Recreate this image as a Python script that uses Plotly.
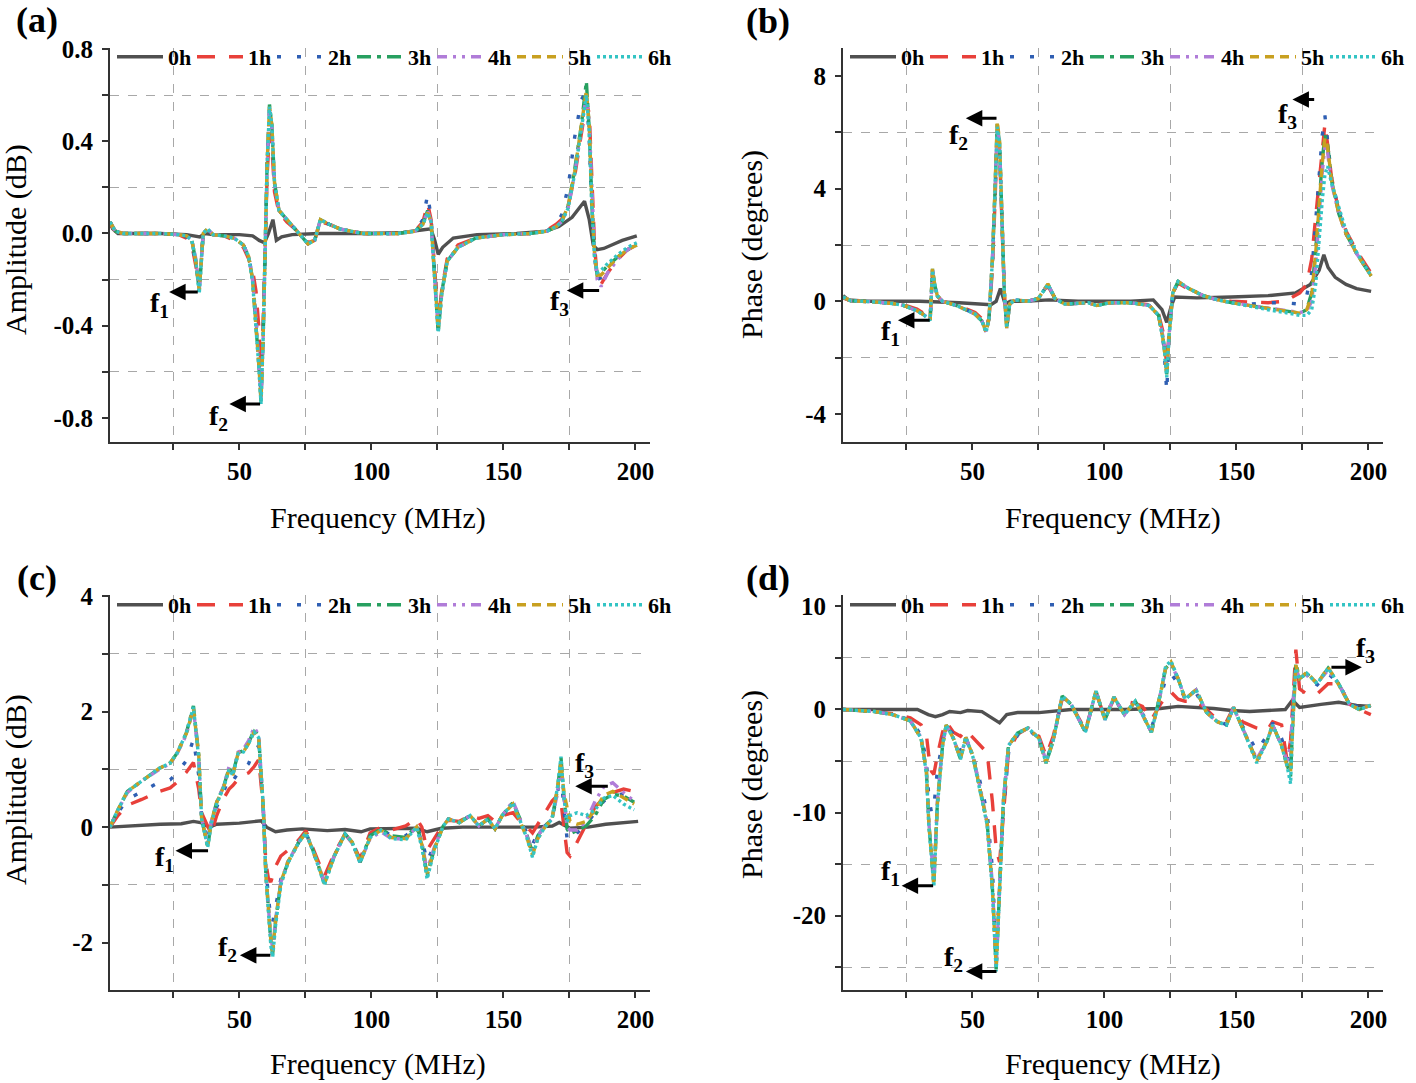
import plotly.graph_objects as go

SERIES = ["0h", "1h", "2h", "3h", "4h", "5h", "6h"]
COLORS = ["#505050", "#E8403A", "#2F5FB3", "#27A060", "#B07CD8", "#C8A020", "#33C4C4"]
DASHES = ["solid", "18px,14px", "4px,16px", "14px,6px,4px,6px", "10px,6px,3px,6px,3px,6px", "9px,6px", "3px,3px"]

# ---------------- Panel (a): amplitude ----------------
FA0 = [1, 2, 4, 10, 20, 30, 33, 35, 37, 40, 50, 55, 57.5, 59.5, 61, 62.7, 64, 66, 70, 80,
       100, 112, 119, 122.5, 124, 125.3, 127, 131, 140, 155, 166, 171, 176, 180.7, 182.5, 184, 185.5, 188, 191, 195, 200.5]
A0 = [0.05, 0.02, 0.0, 0.0, 0.0, -0.005, -0.01, -0.015, 0.0, -0.005, -0.005, -0.01, -0.03, -0.04, 0.0, 0.06, -0.03, -0.015, -0.005, 0.0,
      0.0, 0.005, 0.015, 0.02, -0.03, -0.09, -0.06, -0.02, -0.005, 0.0, 0.01, 0.03, 0.07, 0.14, 0.06, -0.05, -0.07, -0.065, -0.05, -0.03, -0.01]
FA = [1, 3, 6, 12, 20, 27, 30, 32, 33.5, 34.8, 35.5, 36.3, 37.9, 40, 44, 48, 51.5, 53.5, 55, 56.3,
      57.3, 58.2, 59, 59.8, 60.5, 61.4, 62.3, 63.3, 65, 68, 72, 76, 78.5, 80.7, 84, 88, 92, 97, 102, 110,
      116.5, 119.5, 121.3, 122.6, 124, 125.3, 126.7, 128.7, 132.8, 139.5, 150, 160, 166.5, 170, 172, 174.5, 177, 179.5, 181.4, 182.5,
      183.5, 184.5, 185.5, 187, 189.5, 193.5, 197, 200.5]
A1 = [0.04, 0.01, 0.0, 0.0, 0.0, -0.005, -0.02, -0.05, -0.14, -0.22,
      -0.12, 0.0, 0.01, -0.005, -0.01, -0.03, -0.06, -0.11, -0.16, -0.25,
      -0.4, -0.58, -0.38, -0.05, 0.25, 0.44, 0.38, 0.18, 0.09, 0.05,
      0.01, -0.04, -0.03, 0.05, 0.04, 0.02, 0.01, 0.0, 0.0, 0.0,
      0.01, 0.05, 0.13, 0.06, -0.16, -0.38, -0.24, -0.11, -0.05, -0.02,
      -0.005, 0.0, 0.015, 0.04, 0.06, 0.12, 0.25, 0.42, 0.57, 0.52,
      0.2, -0.05, -0.19, -0.22, -0.17, -0.11, -0.07, -0.05]
A2 = [0.05, 0.01, 0.0, 0.0, 0.0, -0.005, -0.015, -0.04, -0.13, -0.24,
      -0.13, 0.0, 0.02, -0.005, -0.01, -0.02, -0.05, -0.1, -0.19, -0.36,
      -0.52, -0.7, -0.44, -0.05, 0.3, 0.54, 0.46, 0.21, 0.1, 0.06,
      0.01, -0.045, -0.03, 0.06, 0.04, 0.02, 0.01, 0.0, 0.0, 0.0,
      0.01, 0.06, 0.17, 0.07, -0.18, -0.41, -0.26, -0.12, -0.06, -0.02,
      -0.005, 0.0, 0.01, 0.04, 0.08, 0.2, 0.42, 0.58, 0.62, 0.4,
      0.1, -0.1, -0.2, -0.19, -0.15, -0.1, -0.07, -0.05]
A3 = [0.05, 0.01, 0.0, 0.0, 0.0, -0.005, -0.01, -0.03, -0.12, -0.25,
      -0.14, 0.0, 0.02, -0.005, -0.01, -0.02, -0.05, -0.1, -0.2, -0.38,
      -0.56, -0.73, -0.45, -0.05, 0.3, 0.56, 0.47, 0.22, 0.1, 0.06,
      0.01, -0.045, -0.03, 0.06, 0.04, 0.02, 0.01, 0.0, 0.0, 0.0,
      0.01, 0.04, 0.1, 0.05, -0.2, -0.43, -0.25, -0.12, -0.06, -0.02,
      -0.005, 0.0, 0.01, 0.03, 0.05, 0.12, 0.28, 0.47, 0.66, 0.45,
      0.12, -0.1, -0.18, -0.17, -0.14, -0.1, -0.07, -0.05]
A4 = [0.05, 0.01, 0.0, 0.0, 0.0, -0.005, -0.01, -0.03, -0.11, -0.24,
      -0.13, 0.0, 0.02, -0.005, -0.01, -0.02, -0.05, -0.1, -0.2, -0.37,
      -0.55, -0.72, -0.45, -0.05, 0.29, 0.54, 0.46, 0.21, 0.1, 0.06,
      0.01, -0.045, -0.03, 0.06, 0.04, 0.02, 0.01, 0.0, 0.0, 0.0,
      0.01, 0.04, 0.1, 0.05, -0.2, -0.42, -0.25, -0.12, -0.06, -0.02,
      -0.005, 0.0, 0.01, 0.03, 0.05, 0.11, 0.26, 0.45, 0.6, 0.48,
      0.15, -0.08, -0.2, -0.23, -0.17, -0.11, -0.07, -0.05]
A5 = [0.05, 0.01, 0.0, 0.0, 0.0, -0.005, -0.01, -0.03, -0.12, -0.25,
      -0.14, 0.0, 0.02, -0.005, -0.01, -0.02, -0.05, -0.1, -0.2, -0.38,
      -0.56, -0.72, -0.45, -0.05, 0.3, 0.55, 0.47, 0.22, 0.1, 0.06,
      0.01, -0.045, -0.03, 0.06, 0.04, 0.02, 0.01, 0.0, 0.0, 0.0,
      0.01, 0.04, 0.09, 0.05, -0.2, -0.41, -0.25, -0.12, -0.06, -0.02,
      -0.005, 0.0, 0.01, 0.03, 0.05, 0.12, 0.27, 0.46, 0.62, 0.47,
      0.13, -0.09, -0.18, -0.18, -0.15, -0.1, -0.07, -0.05]
A6 = [0.05, 0.01, 0.0, 0.0, 0.0, -0.005, -0.01, -0.03, -0.12, -0.26,
      -0.15, 0.0, 0.02, -0.005, -0.01, -0.02, -0.05, -0.1, -0.21, -0.39,
      -0.57, -0.74, -0.46, -0.05, 0.3, 0.55, 0.47, 0.22, 0.1, 0.06,
      0.01, -0.045, -0.03, 0.06, 0.04, 0.02, 0.01, 0.0, 0.0, 0.0,
      0.01, 0.04, 0.09, 0.05, -0.21, -0.43, -0.26, -0.12, -0.06, -0.02,
      -0.005, 0.0, 0.01, 0.03, 0.05, 0.11, 0.26, 0.45, 0.6, 0.44,
      0.11, -0.1, -0.17, -0.16, -0.13, -0.09, -0.06, -0.04]

# ---------------- Panel (b): phase ----------------
FB0 = [1, 3, 10, 30, 45, 54, 57, 59, 60.6, 62.4, 64.4, 70, 79, 90, 110, 118.5, 121.8, 123.6, 125.2, 126.6,
       135, 148, 162, 172.5, 178, 181.3, 183.1, 184.7, 187.4, 191.5, 195.5, 201]
B0 = [0.2, 0.05, 0.0, 0.0, -0.05, -0.1, -0.12, 0.0, 0.45, -0.1, 0.0, 0.0, 0.05, 0.0, 0.0, 0.05, -0.3, -0.75, -0.2, 0.15,
      0.12, 0.15, 0.2, 0.3, 0.6, 1.1, 1.65, 1.2, 0.85, 0.6, 0.45, 0.35]
FB = [1, 4, 13, 20, 24, 29, 32, 34, 34.9, 35.7, 36.7, 38.7, 44, 51, 53.6, 55.2, 56.3, 57.6, 58.6, 59.4,
      60.3, 61.2, 62.1, 63, 64.1, 66, 71, 75, 78.6, 81.3, 85, 94, 97, 102, 110, 117, 120.5, 122.5, 123.6, 124.5,
      125.9, 127.9, 132, 137.4, 143, 148, 155, 162, 168.5, 174, 176.6, 178.5, 180, 181.3, 182.5, 183.5, 184.5, 186, 188.8, 191.5,
      195.5, 201]
B1 = [0.12, 0.02, -0.02, -0.07, -0.13, -0.28, -0.45, -0.6, 1.0, 0.55,
      0.18, 0.0, -0.12, -0.4, -0.62, -0.9, -0.6, 1.2, 3.6, 6.0,
      5.3, 2.4, 0.3, -0.85, -0.1, 0.05, 0.0, 0.1, 0.55, 0.1,
      -0.1, -0.05, -0.12, -0.05, -0.05, -0.12, -0.45, -1.2, -2.3, -1.1,
      0.3, 0.65, 0.42, 0.2, 0.05, 0.0, -0.02, -0.05, 0.0, 0.3,
      0.6, 1.5, 3.0, 4.3, 5.6, 6.3, 5.6, 4.4, 3.2, 2.5,
      1.8, 1.0]
B2 = [0.15, 0.02, -0.02, -0.08, -0.15, -0.32, -0.5, -0.64, 1.1, 0.6,
      0.2, 0.0, -0.14, -0.45, -0.7, -1.05, -0.6, 1.4, 3.9, 6.2,
      5.5, 2.5, 0.3, -0.95, -0.1, 0.05, 0.0, 0.1, 0.6, 0.1,
      -0.1, -0.05, -0.15, -0.05, -0.05, -0.15, -0.5, -1.6, -3.2, -1.3,
      0.3, 0.7, 0.45, 0.2, 0.05, -0.02, -0.1, -0.05, -0.05, -0.1,
      0.2, 1.0, 2.8, 4.6, 5.9, 6.6, 5.8, 4.4, 3.2, 2.4,
      1.7, 0.95]
B3 = [0.15, 0.02, -0.02, -0.08, -0.15, -0.33, -0.5, -0.66, 1.15, 0.6,
      0.2, 0.0, -0.15, -0.45, -0.7, -1.1, -0.6, 1.5, 4.0, 6.3,
      5.6, 2.6, 0.3, -0.95, -0.1, 0.05, 0.0, 0.1, 0.6, 0.1,
      -0.1, -0.05, -0.15, -0.05, -0.05, -0.15, -0.5, -1.5, -2.6, -1.2,
      0.3, 0.7, 0.45, 0.2, 0.05, -0.05, -0.15, -0.25, -0.35, -0.42,
      -0.3, 0.3, 1.8, 3.6, 5.0, 5.9, 5.6, 4.3, 3.1, 2.4,
      1.7, 0.9]
B4 = [0.15, 0.02, -0.02, -0.08, -0.15, -0.33, -0.5, -0.66, 1.1, 0.6,
      0.2, 0.0, -0.15, -0.45, -0.7, -1.1, -0.6, 1.5, 4.0, 6.2,
      5.5, 2.6, 0.3, -0.95, -0.1, 0.05, 0.0, 0.1, 0.6, 0.1,
      -0.1, -0.05, -0.15, -0.05, -0.05, -0.15, -0.5, -1.4, -2.5, -1.2,
      0.3, 0.7, 0.45, 0.2, 0.05, -0.05, -0.15, -0.25, -0.35, -0.4,
      -0.35, 0.0, 1.3, 3.1, 4.6, 5.5, 5.3, 4.2, 3.1, 2.4,
      1.7, 0.9]
B5 = [0.15, 0.02, -0.02, -0.08, -0.15, -0.33, -0.5, -0.66, 1.15, 0.6,
      0.2, 0.0, -0.15, -0.45, -0.7, -1.1, -0.6, 1.5, 4.1, 6.4,
      5.7, 2.6, 0.3, -0.95, -0.1, 0.05, 0.0, 0.1, 0.62, 0.1,
      -0.1, -0.05, -0.15, -0.05, -0.05, -0.15, -0.5, -1.5, -2.6, -1.2,
      0.3, 0.7, 0.45, 0.2, 0.05, -0.05, -0.15, -0.25, -0.35, -0.42,
      -0.3, 0.2, 1.7, 3.5, 4.9, 5.8, 5.5, 4.3, 3.1, 2.4,
      1.7, 0.9]
B6 = [0.15, 0.02, -0.02, -0.08, -0.15, -0.34, -0.52, -0.68, 1.1, 0.6,
      0.2, 0.0, -0.15, -0.45, -0.7, -1.1, -0.6, 1.5, 4.0, 6.2,
      5.6, 2.6, 0.3, -0.95, -0.1, 0.05, 0.0, 0.1, 0.6, 0.1,
      -0.1, -0.05, -0.15, -0.05, -0.05, -0.15, -0.5, -1.5, -2.7, -1.2,
      0.3, 0.7, 0.45, 0.2, 0.05, -0.05, -0.18, -0.3, -0.4, -0.5,
      -0.5, -0.3, 0.6, 2.2, 3.6, 4.5, 4.8, 4.2, 3.3, 2.5,
      1.75, 0.9]

# ---------------- Panel (c): amplitude ----------------
FC0 = [1, 10, 20, 28, 32.6, 35.3, 38.7, 41.4, 50, 58.3, 60.3, 63.7, 68, 73.8, 83.3, 90, 96.1, 99.5, 110, 117.1,
       121.1, 126.5, 134.6, 150, 161.7, 168.5, 171.1, 175.2, 182, 188.7, 195, 201]
C0 = [0.0, 0.03, 0.05, 0.06, 0.1, 0.08, 0.0, 0.05, 0.07, 0.11, 0.0, -0.08, -0.05, -0.03, -0.06, -0.04, -0.08, -0.03, -0.02, -0.02,
      -0.08, -0.02, 0.0, 0.0, 0.0, 0.02, 0.08, -0.02, 0.0, 0.05, 0.08, 0.1]
FC = [1, 4, 7.6, 13, 19.7, 23.8, 26.5, 29.9, 32.6, 34.6, 35.7, 38, 39.3, 41.4, 44.1, 46.1, 47.5, 49.5, 51.5, 53.5,
      55.6, 57.3, 59, 60, 61, 61.9, 62.6, 63.7, 65.7, 68.4, 72.5, 75.2, 78.6, 82.2, 86, 90, 92.7, 95.7, 99.5, 103.6,
      107.6, 113, 117.1, 119.1, 121.1, 123.8, 127.2, 129.2, 133.3, 137.4, 140.7, 144.1, 146.8, 149.5, 153.6, 156.3, 159, 161, 163, 165.7,
      168.4, 170.5, 171.8, 172.9, 174.1, 175.2, 177.9, 181.3, 184.7, 188, 191.4, 195.5, 199.5]
C1 = [0.0, 0.2, 0.38, 0.48, 0.62, 0.68, 0.78, 0.95, 1.12, 0.66,
      0.25, 0.0, -0.12, 0.2, 0.5, 0.66, 0.72, 0.83, 0.9, 0.94,
      1.05, 1.17, 0.37, -0.6, -0.9, -0.95, -0.85, -0.68, -0.5, -0.4,
      -0.22, -0.06, -0.45, -0.85, -0.45, -0.12, -0.25, -0.55, -0.1, 0.0,
      -0.05, 0.02, 0.15, 0.0, -0.4, -0.2, 0.05, 0.12, 0.1, 0.2,
      0.15, 0.2, 0.1, 0.2, 0.25, 0.1, 0.0, -0.1, 0.05, 0.25,
      0.45, 0.55, 0.43, 0.0, -0.44, -0.5, -0.25, 0.05, 0.35, 0.5,
      0.6, 0.66, 0.62]
C2 = [0.0, 0.25, 0.48, 0.62, 0.78, 0.82, 0.95, 1.15, 1.52, 0.9,
      0.2, -0.2, 0.0, 0.35, 0.62, 0.85, 0.8, 0.94, 1.0, 1.1,
      1.35, 1.4, 0.37, -0.7, -1.2, -1.6, -1.65, -1.4, -0.9, -0.6,
      -0.26, -0.09, -0.49, -0.95, -0.49, -0.12, -0.26, -0.6, -0.15, -0.03,
      -0.15, -0.15, 0.02, -0.2, -0.6, -0.3, 0.02, 0.14, 0.08, 0.2,
      0.02, 0.14, -0.03, 0.2, 0.4, 0.14, -0.1, -0.3, -0.1, 0.02,
      0.14, 0.6, 0.95, 0.3, -0.2, -0.25, -0.1, 0.05, 0.25, 0.45,
      0.55, 0.58, 0.6]
C3 = [0.0, 0.3, 0.62, 0.8, 1.02, 1.11, 1.29, 1.63, 2.1, 1.25,
      0.15, -0.35, 0.08, 0.43, 0.71, 1.03, 0.91, 1.29, 1.32, 1.46,
      1.69, 1.57, 0.37, -0.78, -1.47, -1.99, -2.2, -1.64, -0.95, -0.61,
      -0.26, -0.09, -0.49, -0.98, -0.49, -0.12, -0.26, -0.61, -0.15, -0.03,
      -0.15, -0.18, 0.02, -0.26, -0.84, -0.38, 0.02, 0.14, 0.08, 0.2,
      0.02, 0.14, -0.03, 0.2, 0.43, 0.14, -0.15, -0.44, -0.15, 0.02,
      0.14, 0.66, 1.2, 0.54, -0.03, -0.12, -0.06, 0.02, 0.2, 0.48,
      0.57, 0.54, 0.43]
C4 = [0.0, 0.3, 0.6, 0.8, 1.0, 1.1, 1.28, 1.6, 2.05, 1.2,
      0.15, -0.3, 0.08, 0.43, 0.72, 1.05, 0.92, 1.3, 1.35, 1.5,
      1.73, 1.6, 0.37, -0.75, -1.4, -1.9, -2.1, -1.6, -0.95, -0.6,
      -0.26, -0.1, -0.49, -0.95, -0.49, -0.12, -0.28, -0.6, -0.2, -0.08,
      -0.2, -0.2, 0.0, -0.28, -0.75, -0.35, 0.02, 0.14, 0.08, 0.2,
      0.02, 0.14, -0.03, 0.2, 0.45, 0.14, -0.15, -0.4, -0.15, 0.02,
      0.14, 0.6, 1.05, 0.5, 0.0, -0.05, -0.05, 0.1, 0.45, 0.7,
      0.77, 0.6, 0.45]
C5 = [0.0, 0.3, 0.62, 0.8, 1.02, 1.11, 1.29, 1.62, 2.05, 1.25,
      0.15, -0.32, 0.08, 0.43, 0.7, 1.0, 0.9, 1.28, 1.3, 1.45,
      1.65, 1.55, 0.37, -0.78, -1.45, -1.95, -2.15, -1.62, -0.95, -0.6,
      -0.26, -0.1, -0.49, -0.97, -0.49, -0.12, -0.26, -0.6, -0.18, -0.05,
      -0.18, -0.2, 0.0, -0.3, -0.8, -0.38, 0.02, 0.14, 0.08, 0.2,
      0.02, 0.14, -0.03, 0.2, 0.4, 0.1, -0.2, -0.48, -0.2, 0.0,
      0.14, 0.7, 1.1, 0.6, 0.3, 0.1, 0.05, 0.1, 0.3, 0.55,
      0.62, 0.5, 0.4]
C6 = [0.0, 0.3, 0.62, 0.8, 1.02, 1.11, 1.29, 1.63, 2.08, 1.2,
      0.15, -0.35, 0.05, 0.4, 0.7, 1.0, 0.9, 1.27, 1.3, 1.45,
      1.65, 1.55, 0.4, -0.8, -1.5, -2.05, -2.25, -1.7, -1.0, -0.62,
      -0.26, -0.1, -0.5, -1.0, -0.5, -0.12, -0.26, -0.62, -0.18, -0.05,
      -0.2, -0.22, 0.0, -0.35, -0.9, -0.4, 0.02, 0.14, 0.08, 0.2,
      0.02, 0.14, -0.03, 0.2, 0.42, 0.1, -0.2, -0.52, -0.2, 0.0,
      0.14, 0.7, 1.22, 0.5, 0.1, 0.2, 0.25, 0.2, 0.3, 0.5,
      0.55, 0.4, 0.3]

# ---------------- Panel (d): phase ----------------
FD0 = [1, 20, 29.2, 33.3, 36, 38.7, 41.4, 45.5, 48.2, 53.6, 57.6, 60.3, 63, 67.1, 75.2, 80.6, 87.4, 107.6, 121.2, 127.9,
       141.4, 148.2, 155, 161.7, 168.5, 171.2, 173.9, 182, 188.7, 195.5, 200.9]
D0 = [0.0, 0.0, 0.0, -0.5, -0.7, -0.5, -0.2, -0.3, -0.1, -0.2, -0.8, -1.3, -0.5, -0.3, -0.3, -0.2, 0.0, 0.0, 0.1, 0.3,
      0.1, -0.1, -0.2, -0.1, 0.0, 0.9, 0.2, 0.5, 0.7, 0.4, 0.3]
FD = [1, 7, 13, 19.8, 26.5, 30.6, 32.6, 33.5, 34.5, 35.4, 36.7, 38.7, 40.1, 42.8, 45.5, 47.5, 50.2, 52.9, 55.6, 57.6,
      59, 60.3, 61.7, 63.7, 67.1, 71.1, 75.2, 77.9, 80.6, 84, 87.4, 92.8, 96.8, 100.2, 103.6, 107.6, 111.7, 114.4, 117.8, 121.2,
      123.2, 125.2, 127.9, 130.6, 134.7, 138.7, 142.8, 146.2, 148.9, 152.3, 157.7, 161.7, 163.7, 167.1, 169.2, 170.5, 171.5, 172.5, 173.9, 176.6,
      180.6, 184.7, 188.7, 192.8, 196.5, 200.9]
D1 = [0.0, -0.1, -0.2, -0.4, -0.8, -1.5, -2.5, -4.5, -6.0, -6.3,
      -4.5, -2.2, -1.2, -2.2, -2.6, -2.0, -2.7, -3.5, -4.2, -9.0,
      -13.5, -14.8, -10.0, -4.0, -2.4, -1.8, -2.6, -4.5, -2.6, 1.0,
      0.5, -2.0, 1.6, -0.8, 1.0, 0.8, 0.6, 0.3, -1.0, 0.5,
      1.2, 1.7, 1.0, 0.8, 0.8, 0.0, -1.0, -1.2, 0.2, -1.2,
      -1.8, -2.0, -1.2, -1.5, -5.0, -3.0, 2.0, 5.8, 2.0, 1.5,
      1.5, 2.5, 2.5, 0.5, 0.0, -0.5]
D2 = [0.0, -0.1, -0.2, -0.5, -1.0, -2.5, -5.0, -8.5, -10.0, -9.5,
      -6.0, -3.0, -1.6, -2.4, -4.0, -2.8, -4.5, -7.0, -10.0, -15.5,
      -24.0, -17.0, -10.0, -4.2, -2.5, -1.8, -3.0, -5.0, -3.0, 1.2,
      0.5, -2.1, 1.7, -0.9, 1.1, -0.4, 0.7, -0.4, -1.8, 1.0,
      3.0, 3.5, 2.5, 1.0, 1.6, -0.2, -1.0, -1.5, 0.1, -1.6,
      -4.0, -2.5, -1.3, -2.8, -4.5, -5.5, 0.5, 4.2, 3.0, 3.0,
      2.4, 3.5, 2.5, 0.6, 0.2, 0.5]
D3 = [0.0, -0.1, -0.2, -0.5, -1.1, -2.8, -6.0, -11.0, -14.5, -17.0,
      -9.3, -3.5, -1.5, -2.8, -4.8, -2.7, -4.5, -7.7, -11.0, -17.4,
      -25.2, -17.4, -9.0, -3.5, -2.3, -1.8, -2.8, -5.2, -3.0, 1.3,
      0.5, -2.2, 1.8, -1.0, 1.2, -0.5, 0.8, -0.5, -2.2, 1.5,
      4.0, 4.5, 3.0, 1.0, 1.9, -0.3, -1.2, -1.5, 0.2, -1.8,
      -5.0, -3.0, -1.5, -3.5, -5.5, -6.5, 0.0, 4.5, 3.0, 3.5,
      2.5, 4.0, 2.5, 0.5, 0.0, 0.4]
D4 = [0.0, -0.1, -0.2, -0.5, -1.1, -2.7, -6.0, -11.0, -14.0, -16.5,
      -9.0, -3.5, -1.5, -2.8, -4.7, -2.7, -4.5, -7.5, -11.0, -17.0,
      -25.0, -17.0, -9.0, -3.5, -2.3, -1.8, -2.8, -5.0, -3.0, 1.3,
      0.5, -2.2, 1.8, -1.0, 1.2, -0.5, 0.8, -0.5, -2.2, 1.5,
      4.0, 4.4, 3.0, 1.0, 1.9, -0.3, -1.2, -1.5, 0.2, -1.8,
      -4.8, -3.0, -1.5, -3.5, -5.0, -3.5, 1.0, 4.0, 3.0, 3.3,
      2.6, 3.8, 2.5, 0.5, 0.0, 0.4]
D5 = [0.0, -0.1, -0.2, -0.5, -1.1, -2.8, -6.0, -11.0, -14.5, -17.0,
      -9.3, -3.5, -1.5, -2.8, -4.8, -2.7, -4.5, -7.7, -11.0, -17.4,
      -25.0, -17.4, -9.0, -3.5, -2.3, -1.8, -2.8, -5.2, -3.0, 1.3,
      0.5, -2.2, 1.8, -1.0, 1.2, -0.5, 0.8, -0.5, -2.2, 1.5,
      4.0, 4.6, 3.0, 1.0, 1.9, -0.3, -1.2, -1.5, 0.2, -1.8,
      -5.0, -3.0, -1.5, -3.5, -5.5, -6.0, 0.0, 4.3, 3.0, 3.6,
      2.5, 4.1, 2.4, 0.5, 0.0, 0.4]
D6 = [0.0, -0.1, -0.2, -0.5, -1.1, -2.8, -6.2, -11.2, -14.8, -17.2,
      -9.5, -3.5, -1.5, -2.8, -4.8, -2.7, -4.6, -7.8, -11.2, -17.6,
      -25.4, -17.6, -9.2, -3.5, -2.3, -1.8, -2.8, -5.2, -3.0, 1.3,
      0.5, -2.2, 1.8, -1.0, 1.2, -0.5, 0.8, -0.5, -2.2, 1.5,
      4.2, 4.7, 3.0, 1.0, 1.9, -0.3, -1.2, -1.5, 0.2, -1.8,
      -5.2, -3.0, -1.5, -3.5, -5.5, -7.2, 0.0, 4.0, 3.0, 3.5,
      2.5, 4.0, 2.5, 0.5, 0.0, 0.4]

# tick labels
X_TICKS = [50, 100, 150, 200]
X_GRID = [25, 75, 125, 175]
YA_TICKS = [-0.8, -0.4, 0.0, 0.4, 0.8]
YA_TEXT = ["-0.8", "-0.4", "0.0", "0.4", "0.8"]
YA_GRID = [-0.6, -0.2, 0.2, 0.6]
YB_TICKS = [-4, 0, 4, 8]
YB_TEXT = ["-4", "0", "4", "8"]
YB_GRID = [-2, 2, 6]
YC_TICKS = [-2, 0, 2, 4]
YC_TEXT = ["-2", "0", "2", "4"]
YC_GRID = [-1, 1, 3]
YD_TICKS = [-20, -10, 0, 10]
YD_TEXT = ["-20", "-10", "0", "10"]
YD_GRID = [-25, -15, -5, 5]

panels = [
    dict(f0=FA0, v0=A0, f=FA, vals=[A1, A2, A3, A4, A5, A6]),
    dict(f0=FB0, v0=B0, f=FB, vals=[B1, B2, B3, B4, B5, B6]),
    dict(f0=FC0, v0=C0, f=FC, vals=[C1, C2, C3, C4, C5, C6]),
    dict(f0=FD0, v0=D0, f=FD, vals=[D1, D2, D3, D4, D5, D6]),
]
for p in panels:
    assert len(p["f0"]) == len(p["v0"]), (len(p["f0"]), len(p["v0"]))
    for v in p["vals"]:
        assert len(p["f"]) == len(v), (len(p["f"]), len(v))

W, H = 1416, 1083
SERIF = "Liberation Serif"

fig = go.Figure()
for i, p in enumerate(panels):
    sfx = "" if i == 0 else str(i + 1)
    xa, ya, lg = "x" + sfx, "y" + sfx, "legend" + sfx
    fig.add_trace(go.Scatter(x=p["f0"], y=p["v0"], mode="lines", name=SERIES[0],
                             line=dict(color=COLORS[0], width=3.4, dash=DASHES[0]),
                             xaxis=xa, yaxis=ya, legend=lg))
    for k, v in enumerate(p["vals"]):
        fig.add_trace(go.Scatter(x=p["f"], y=v, mode="lines", name=SERIES[k + 1],
                                 line=dict(color=COLORS[k + 1], width=3.4, dash=DASHES[k + 1]),
                                 xaxis=xa, yaxis=ya, legend=lg))

def px2x(px):
    return px / W

def px2y(py):
    return 1 - py / H

dom_x = [[px2x(110), px2x(650)], [px2x(843), px2x(1383)]]
dom_y = [[px2y(442), px2y(48)], [px2y(990), px2y(595)]]

tickfont = dict(family=SERIF, size=25, color="black", weight="bold")

def xaxis(dom, anchor):
    return dict(domain=dom, anchor=anchor, range=[1, 205.5], tickvals=X_TICKS,
                ticks="outside", ticklen=6, tickwidth=2, tickcolor="#333",
                showline=True, linecolor="#333", linewidth=2, showgrid=False, zeroline=False,
                tickfont=tickfont,
                minor=dict(tickvals=X_GRID, ticks="outside", ticklen=6, tickwidth=2, tickcolor="#333",
                           showgrid=True, gridcolor="#a8a8a8", griddash="dash", gridwidth=1))

def yaxis(dom, anchor, rng, tv, grid, tt):
    return dict(domain=dom, anchor=anchor, range=rng, tickvals=tv, ticktext=tt,
                ticks="outside", ticklen=6, tickwidth=2, tickcolor="#333",
                showline=True, linecolor="#333", linewidth=2, showgrid=False, zeroline=False,
                tickfont=tickfont, ticklabelstandoff=4,
                minor=dict(tickvals=grid, ticks="outside", ticklen=6, tickwidth=2, tickcolor="#333",
                           showgrid=True, gridcolor="#a8a8a8", griddash="dash", gridwidth=1))

legend_common = dict(orientation="h", xanchor="left", yanchor="top", bgcolor="rgba(0,0,0,0)",
                     font=dict(family=SERIF, size=22, color="black", weight="bold"),
                     itemwidth=46, entrywidth=19, entrywidthmode="pixels", borderwidth=0,
                     itemclick=False, itemdoubleclick=False)

def leg(xp, yp):
    d = dict(legend_common)
    d.update(x=px2x(xp), y=px2y(yp))
    return d

annotations = []
# panel labels
for txt, xp, yp in [("(a)", 37, 20), ("(b)", 768, 21), ("(c)", 37, 578), ("(d)", 768, 578)]:
    annotations.append(dict(text=txt, x=px2x(xp), y=px2y(yp), xref="paper", yref="paper",
                            xanchor="center", yanchor="middle", showarrow=False,
                            font=dict(family=SERIF, size=36, color="black", weight="bold")))
# axis titles
ttl = dict(family=SERIF, size=30, color="black")
for txt, xp, yp in [("Amplitude (dB)", 16, 240), ("Phase (degrees)", 752, 245),
                    ("Amplitude (dB)", 16, 790), ("Phase (degrees)", 752, 785)]:
    annotations.append(dict(text=txt, x=px2x(xp), y=px2y(yp), xref="paper", yref="paper",
                            xanchor="center", yanchor="middle",
                            showarrow=False, textangle=-90, font=ttl))
for xp, yp in [(378, 518), (1113, 518), (378, 1064), (1113, 1064)]:
    annotations.append(dict(text="Frequency (MHz)", x=px2x(xp), y=px2y(yp), xref="paper", yref="paper",
                            xanchor="center", yanchor="middle", showarrow=False, font=ttl))

# f markers: (axis suffix, label, head x, head y, tail x, tail y, text x, text y)
F_MARKS = [
    ("", "1", 23.4, -0.254, 34.8, -0.254, 19.9, -0.31),
    ("", "2", 46.2, -0.74, 58.4, -0.74, 42.2, -0.8),
    ("", "3", 174.0, -0.247, 186.8, -0.247, 171.3, -0.30),
    ("2", "1", 21.8, -0.67, 34.4, -0.67, 19.1, -1.1),
    ("2", "2", 47.5, 6.5, 59.7, 6.5, 44.8, 5.85),
    ("2", "3", 171.2, 7.17, 180.0, 7.17, 169.2, 6.6),
    ("3", "1", 25.8, -0.41, 38.7, -0.41, 21.8, -0.55),
    ("3", "2", 50.2, -2.22, 62.3, -2.22, 45.4, -2.1),
    ("3", "3", 177.2, 0.71, 190.1, 0.71, 180.6, 1.09),
    ("4", "1", 23.2, -17.1, 35.7, -17.1, 19.1, -15.8),
    ("4", "2", 47.5, -25.4, 59.7, -25.4, 42.8, -24.1),
    ("4", "3", 197.5, 4.1, 185.4, 4.1, 198.9, 5.8),
]
for sfx, lab, hx, hy, tx, ty, lx, ly in F_MARKS:
    xr, yr = "x" + sfx, "y" + sfx
    annotations.append(dict(x=hx, y=hy, ax=tx, ay=ty, xref=xr, yref=yr, axref=xr, ayref=yr,
                            text="", showarrow=True, arrowhead=2, arrowsize=1.1, arrowwidth=3,
                            arrowcolor="black", standoff=0, startstandoff=0))
    annotations.append(dict(x=lx, y=ly, xref=xr, yref=yr, text="<b>f<sub>" + lab + "</sub></b>",
                            showarrow=False, font=dict(family=SERIF, size=28, color="black")))

fig.update_layout(
    width=W, height=H,
    margin=dict(l=0, r=0, t=0, b=0, autoexpand=False),
    paper_bgcolor="white", plot_bgcolor="white",
    xaxis=xaxis(dom_x[0], "y"),
    yaxis=yaxis(dom_y[0], "x", [-0.905, 0.805], YA_TICKS, YA_GRID, YA_TEXT),
    xaxis2=xaxis(dom_x[1], "y2"),
    yaxis2=yaxis(dom_y[0], "x2", [-5, 9], YB_TICKS, YB_GRID, YB_TEXT),
    xaxis3=xaxis(dom_x[0], "y3"),
    yaxis3=yaxis(dom_y[1], "x3", [-2.82, 4.02], YC_TICKS, YC_GRID, YC_TEXT),
    xaxis4=xaxis(dom_x[1], "y4"),
    yaxis4=yaxis(dom_y[1], "x4", [-27.2, 11.1], YD_TICKS, YD_GRID, YD_TEXT),
    legend=leg(112, 36), legend2=leg(845, 36), legend3=leg(112, 584), legend4=leg(845, 584),
    annotations=annotations,
    showlegend=True,
)

fig.write_html("out.html", config={"displayModeBar": False},
               post_script="document.body.style.margin='0';document.body.style.overflow='hidden';")
